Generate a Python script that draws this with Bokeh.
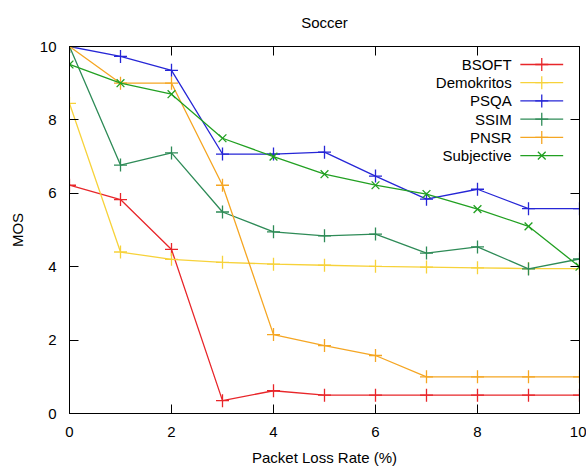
from bokeh.plotting import figure
from bokeh.models import Range1d, LinearAxis, FixedTicker
from bokeh.core.properties import value
from bokeh.embed import file_html
from bokeh.resources import INLINE

# ---- data ----
loss = [0, 1, 2, 3, 4, 5, 6, 7, 8, 9, 10]
bsoft = [6.22, 5.83, 4.47, 0.35, 0.62, 0.5, 0.5, 0.5, 0.5, 0.5, 0.5]
demokritos = [8.45, 4.4, 4.2, 4.12, 4.07, 4.04, 4.01, 3.99, 3.97, 3.95, 3.95]
psqa = [10.0, 9.73, 9.35, 7.07, 7.07, 7.12, 6.47, 5.84, 6.11, 5.58, 5.58]
ssim = [10.0, 6.77, 7.1, 5.49, 4.95, 4.84, 4.89, 4.37, 4.54, 3.94, 4.21]
pnsr = [10.0, 9.0, 9.0, 6.22, 2.15, 1.85, 1.58, 1.0, 1.0, 1.0, 1.0]
subjective = [9.51, 9.0, 8.7, 7.5, 7.0, 6.52, 6.22, 5.98, 5.57, 5.1, 4.0]

series_names = ["BSOFT", "Demokritos", "PSQA", "SSIM", "PNSR", "Subjective"]
series_vals = [bsoft, demokritos, psqa, ssim, pnsr, subjective]
series_colors = ["#e8262a", "#f7d23a", "#2626d6", "#2e8b57", "#f5a623", "#22a022"]
series_markers = ["cross", "cross", "cross", "cross", "cross", "x"]
x_ticks = [0, 2, 4, 6, 8, 10]
y_ticks = [0, 2, 4, 6, 8, 10]

X0, X1, Y0, Y1 = 0, 10, 0, 10
FONT = "Liberation Sans"
FS = "15px"

p = figure(width=586, height=469, output_backend="svg", toolbar_location=None,
           x_range=Range1d(X0, X1), y_range=Range1d(Y0, Y1),
           min_border_left=69, min_border_right=7, min_border_top=45, min_border_bottom=56,
           title="Soccer")
p.title.align = "center"
p.title.text_font = FONT
p.title.text_font_size = FS
p.title.text_font_style = "normal"
p.title.text_color = "black"
p.title.vertical_align = "top"
p.title.standoff = 27
p.grid.visible = False
p.outline_line_color = "black"
p.outline_line_width = 1
p.background_fill_color = "white"
p.border_fill_color = "white"

for ax in (p.xaxis[0], p.yaxis[0]):
    ax.major_tick_in = 9
    ax.major_tick_out = 0
    ax.minor_tick_line_color = None
    ax.axis_line_color = "black"
    ax.major_tick_line_color = "black"
    ax.major_label_text_font = FONT
    ax.major_label_text_font_size = FS
    ax.major_label_text_color = "black"
    ax.axis_label_text_font = FONT
    ax.axis_label_text_font_size = FS
    ax.axis_label_text_font_style = "normal"
    ax.axis_label_text_color = "black"
p.xaxis[0].ticker = FixedTicker(ticks=x_ticks)
p.yaxis[0].ticker = FixedTicker(ticks=y_ticks)
p.xaxis[0].axis_label = "Packet Loss Rate (%)"
p.yaxis[0].axis_label = "MOS"
p.xaxis[0].major_label_standoff = 13
p.xaxis[0].axis_label_standoff = 9
p.yaxis[0].major_label_standoff = 13
p.yaxis[0].axis_label_standoff = 11

# mirror ticks (gnuplot style), no labels
top = LinearAxis(ticker=FixedTicker(ticks=x_ticks), major_tick_in=9, major_tick_out=0,
                 minor_tick_line_color=None, major_label_overrides={t: "" for t in x_ticks},
                 major_label_standoff=0, axis_line_color="black")
right = LinearAxis(ticker=FixedTicker(ticks=y_ticks), major_tick_in=9, major_tick_out=0,
                   minor_tick_line_color=None, major_label_overrides={t: "" for t in y_ticks},
                   major_label_standoff=0, axis_line_color="black")
p.add_layout(top, "above")
p.add_layout(right, "right")

for name, vals, col, mk in zip(series_names, series_vals, series_colors, series_markers):
    p.line(loss, vals, line_color=col, line_width=1.3)
    p.scatter(loss, vals, marker=mk, size=13 if mk == "cross" else 11,
              line_color=col, line_width=1.3)

# legend, gnuplot style: right-aligned text followed by a sample line
xs_text = X0 + 0.867 * (X1 - X0)
xs_a = X0 + 0.884 * (X1 - X0)
xs_b = X0 + 0.968 * (X1 - X0)
xs_m = (xs_a + xs_b) / 2
for i, (name, col, mk) in enumerate(zip(series_names, series_colors, series_markers)):
    yy = Y0 + (0.951 - i * 0.0497) * (Y1 - Y0)
    p.text([xs_text], [yy], text=[name], text_align="right", text_baseline="middle",
           text_font=value(FONT), text_font_size=FS, text_color="black")
    p.segment([xs_a], [yy], [xs_b], [yy], line_color=col, line_width=1.3)
    p.scatter([xs_m], [yy], marker=mk, size=13 if mk == "cross" else 11,
              line_color=col, line_width=1.3)

open("out.html", "w").write(file_html(p, INLINE))
